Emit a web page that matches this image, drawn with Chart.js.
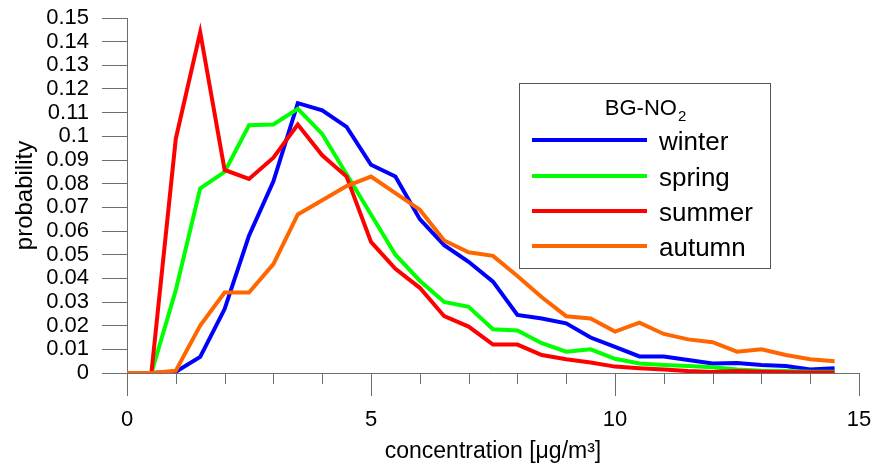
<!DOCTYPE html>
<html>
<head>
<meta charset="utf-8">
<script src="https://cdn.jsdelivr.net/npm/chart.js@4.4.1/dist/chart.umd.min.js"></script>
<style>
  html, body { margin: 0; padding: 0; background: #fff; }
  canvas { display: block; }
</style>
</head>
<body>
<canvas id="myChart" width="874" height="468"></canvas>
<script>
/* data */
const concentration = [0, 0.5, 1, 1.5, 2, 2.5, 3, 3.5, 4, 4.5, 5, 5.5, 6, 6.5, 7, 7.5,
    8, 8.5, 9, 9.5, 10, 10.5, 11, 11.5, 12, 12.5, 13, 13.5, 14, 14.5];
const seasons = ["winter", "spring", "summer", "autumn"];
const winter = [0, 0, 0.0005, 0.0068, 0.027, 0.058, 0.081, 0.114, 0.111, 0.104, 0.088, 0.083,
    0.065, 0.054, 0.047, 0.0386, 0.0245, 0.023, 0.021, 0.015, 0.011, 0.007, 0.007, 0.0055,
    0.004, 0.0042, 0.0034, 0.003, 0.0015, 0.002];
const spring = [0, 0, 0.035, 0.078, 0.085, 0.1047, 0.105, 0.1116, 0.101, 0.084, 0.067, 0.05,
    0.039, 0.03, 0.028, 0.0185, 0.018, 0.0126, 0.009, 0.01, 0.006, 0.004, 0.0034, 0.003,
    0.0024, 0.0015, 0.001, 0.0008, 0.0005, 0.0005];
const summer = [0, 0, 0.099, 0.144, 0.0858, 0.082, 0.091, 0.105, 0.092, 0.083, 0.0554, 0.044,
    0.036, 0.024, 0.0196, 0.012, 0.012, 0.0076, 0.0058, 0.0044, 0.0027, 0.002, 0.0015, 0.0008,
    0.0004, 0.0008, 0.0005, 0.0003, 0.0002, 0.0002];
const autumn = [0, 0, 0.001, 0.02, 0.034, 0.034, 0.046, 0.067, 0.073, 0.079, 0.083, 0.076,
    0.069, 0.056, 0.051, 0.0495, 0.041, 0.032, 0.024, 0.023, 0.0175, 0.0213, 0.0165, 0.0142,
    0.013, 0.009, 0.01, 0.0076, 0.0058, 0.005];
const xTickLabels = [0, 5, 10, 15];

const FONT = "'Liberation Sans', Arial, sans-serif";
const AXIS_GREY = "#6e6e6e";

function toPoints(values) {
    return values.map((v, i) => ({ x: concentration[i], y: v }));
}

const seriesValues = [winter, spring, summer, autumn];
const colors = ["#0000ff", "#00ff00", "#ff0000", "#ff6600"];
const drawOrder = [4, 3, 2, 1];

const datasets = [];
for (var i = 0; i < seasons.length; i++) {
    datasets.push({
        label: seasons[i],
        data: toPoints(seriesValues[i]),
        borderColor: colors[i],
        backgroundColor: colors[i],
        borderWidth: 4,
        pointRadius: 0,
        tension: 0,
        order: drawOrder[i],
    });
}

/* minor ticks on x axis (every 1, shorter than the labelled ones) */
const minorTicks = {
    id: "minorTicks",
    afterDraw(chart) {
        const ctx = chart.ctx;
        const xs = chart.scales.x;
        const y0 = chart.chartArea.bottom;
        ctx.save();
        ctx.strokeStyle = AXIS_GREY;
        ctx.lineWidth = 1;
        for (var v = 1; v < 15; v++) {
            if (v % 5 === 0) continue;
            const px = Math.round(xs.getPixelForValue(v)) + 0.5;
            ctx.beginPath();
            ctx.moveTo(px, y0);
            ctx.lineTo(px, y0 + 11);
            ctx.stroke();
        }
        ctx.restore();
    },
};

/* boxed legend with title BG-NO2 */
const boxLegend = {
    id: "boxLegend",
    afterDraw(chart) {
        const ctx = chart.ctx;
        const bx = 519.5, by = 83.5, bw = 251, bh = 185;
        ctx.save();
        ctx.fillStyle = "#fff";
        ctx.fillRect(bx, by, bw, bh);
        ctx.strokeStyle = "#555";
        ctx.lineWidth = 1;
        ctx.strokeRect(bx, by, bw, bh);

        // title with subscript
        ctx.fillStyle = "#000";
        ctx.textBaseline = "alphabetic";
        ctx.textAlign = "left";
        const main = "BG-NO";
        ctx.font = "22px " + FONT;
        const wMain = ctx.measureText(main).width;
        ctx.font = "15px " + FONT;
        const wSub = ctx.measureText("2").width;
        let tx = 645 - (wMain + wSub) / 2;
        ctx.font = "22px " + FONT;
        ctx.fillText(main, tx, 115);
        ctx.font = "15px " + FONT;
        ctx.fillText("2", tx + wMain + 1, 121);

        const rows = [140, 176, 211, 246];
        chart.data.datasets.forEach((ds, k) => {
            ctx.strokeStyle = ds.borderColor;
            ctx.lineWidth = 4;
            ctx.beginPath();
            ctx.moveTo(532, rows[k]);
            ctx.lineTo(647, rows[k]);
            ctx.stroke();
            ctx.fillStyle = "#000";
            ctx.font = "26px " + FONT;
            ctx.fillText(ds.label, 659, rows[k] + 10);
        });
        ctx.restore();
    },
};

const config = {
    type: "line",
    data: { datasets: datasets },
    options: {
        responsive: false,
        animation: false,
        devicePixelRatio: 1,
        layout: { padding: { top: 18, right: 15, bottom: 0, left: 0 } },
        plugins: {
            legend: { display: false },
            tooltip: { enabled: false },
        },
        scales: {
            x: {
                type: "linear",
                min: 0,
                max: 15,
                afterFit: (scale) => {
                    scale.height = 95;
                    scale.paddingLeft = 0;
                    scale.paddingRight = 0;
                },
                afterBuildTicks: (scale) => {
                    scale.ticks = xTickLabels.map((v) => ({ value: v }));
                },
                ticks: {
                    color: "#000",
                    font: { family: FONT, size: 22 },
                    padding: 11,
                    maxRotation: 0,
                    autoSkip: false,
                    callback: (v) => String(v),
                },
                grid: {
                    drawOnChartArea: false,
                    drawTicks: true,
                    tickLength: 23,
                    color: AXIS_GREY,
                },
                border: { display: true, color: AXIS_GREY, width: 1 },
                title: {
                    display: true,
                    text: "concentration [\u03bcg/m\u00b3]",
                    color: "#000",
                    font: { family: FONT, size: 23 },
                    padding: { top: 0, bottom: 3 },
                },
            },
            y: {
                min: 0,
                max: 0.15,
                afterFit: (scale) => {
                    scale.width = 127;
                    scale.paddingTop = 0;
                    scale.paddingBottom = 0;
                },
                ticks: {
                    stepSize: 0.01,
                    autoSkip: false,
                    color: "#000",
                    font: { family: FONT, size: 22 },
                    padding: 13,
                    callback: (v) => String(+v.toFixed(2)),
                },
                grid: {
                    drawOnChartArea: false,
                    drawTicks: true,
                    tickLength: 25,
                    color: AXIS_GREY,
                },
                border: { display: true, color: AXIS_GREY, width: 1 },
                title: {
                    display: true,
                    text: "probability",
                    color: "#000",
                    font: { family: FONT, size: 24 },
                    padding: { top: 11, bottom: 0 },
                },
            },
        },
    },
    plugins: [minorTicks, boxLegend],
};

const myChart = new Chart(document.getElementById("myChart"), config);
</script>
</body>
</html>
